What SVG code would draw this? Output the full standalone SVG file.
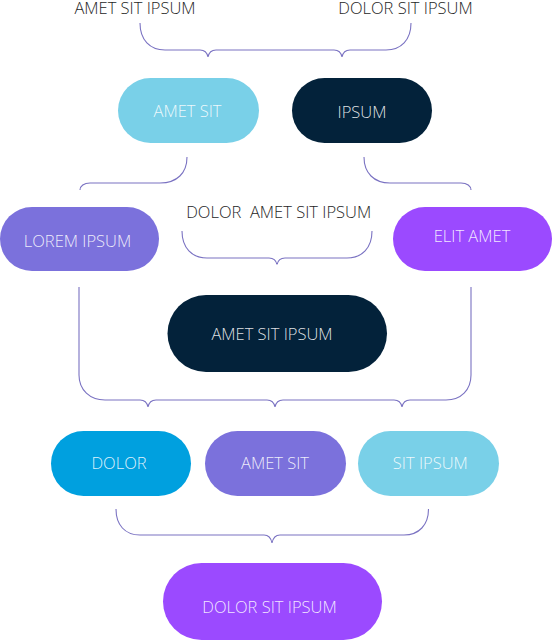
<svg xmlns="http://www.w3.org/2000/svg" width="552" height="640" viewBox="0 0 552 640">
<style>
.lbl{font-family:"Open Sans","Liberation Sans",sans-serif;font-weight:300;font-size:16.5px;fill:#262626;text-anchor:middle}
.nt{font-family:"Open Sans","Liberation Sans",sans-serif;font-weight:300;font-size:16.5px;fill:#ffffff;fill-opacity:0.88;text-anchor:middle}
.con path{fill:none;stroke:#7a72c2;stroke-width:1.1}
.lb{fill:#79d0e8}.nv{fill:#03223a}.lv{fill:#7b71dc}.pp{fill:#9b4aff}.bl{fill:#00a0df}
</style>
<rect width="552" height="640" fill="#ffffff"/>
<g id="connectors" class="con">
<path d="M140,23 C140,40 150,50 165,50 H200 C205,50 207,52 208,57 C209,52 211,50 216,50 H334 C339,50 341,52 342,57 C343,52 345,50 350,50 H386 C401,50 411,40 411,23"/>
<path d="M187,157 C187,173 177,183 160,183 H90 C84,183 80,186 80,190"/>
<path d="M364,157 C364,173 374,183 390,183 H461 C467,183 471,186 471,190"/>
<path d="M182,231 C182,248 192,258 207,258 H269 C274,258 276,260 277,264.5 C278,260 280,258 285,258 H347 C362,258 372,248 372,231"/>
<path d="M79,287 V375 C79,390 90,400 105,400 H140 C145,400 147,402 148,407 C149,402 151,400 156,400 H267 C272,400 274,402 275,407 C276,402 278,400 283,400 H394 C399,400 401,402 402,407 C403,402 405,400 410,400 H446 C461,400 471,390 471,375 V287"/>
<path d="M116,509 C116,525 125,535 140,535 H264 C269,535 271,538 272,543 C273,538 275,535 280,535 H404 C419,535 428.5,525 428.5,509"/>
</g>
<g id="label-top-left"><text class="lbl" x="135" y="14">AMET SIT IPSUM</text></g>
<g id="label-top-right"><text class="lbl" x="405.5" y="14">DOLOR SIT IPSUM</text></g>
<g id="node-amet-sit"><rect class="lb" x="118" y="78" width="141" height="65" rx="32.5"/><text class="nt" x="187.5" y="117">AMET SIT</text></g>
<g id="node-ipsum"><rect class="nv" x="292" y="78" width="140" height="65" rx="32.5"/><text class="nt" x="362" y="118">IPSUM</text></g>
<g id="node-lorem-ipsum"><rect class="lv" x="0" y="207" width="159" height="64" rx="32"/><text class="nt" x="77.5" y="246.5">LOREM IPSUM</text></g>
<g id="label-middle"><text class="lbl" x="278.7" y="217.5" xml:space="preserve">DOLOR  AMET SIT IPSUM</text></g>
<g id="node-elit-amet"><rect class="pp" x="393" y="207" width="159" height="64" rx="32"/><text class="nt" x="472" y="242">ELIT AMET</text></g>
<g id="node-amet-sit-ipsum"><rect class="nv" x="167.5" y="295" width="219.5" height="77" rx="38.5"/><text class="nt" x="272" y="339.5">AMET SIT IPSUM</text></g>
<g id="node-dolor"><rect class="bl" x="51" y="431" width="140" height="65" rx="32.5"/><text class="nt" x="119" y="469">DOLOR</text></g>
<g id="node-amet-sit-2"><rect class="lv" x="205" y="431" width="141" height="65" rx="32.5"/><text class="nt" x="275" y="469">AMET SIT</text></g>
<g id="node-sit-ipsum"><rect class="lb" x="358" y="431" width="141" height="65" rx="32.5"/><text class="nt" x="430.3" y="469">SIT IPSUM</text></g>
<g id="node-dolor-sit-ipsum"><rect class="pp" x="163" y="563" width="219" height="77" rx="38.5"/><text class="nt" x="269.5" y="613">DOLOR SIT IPSUM</text></g>
</svg>
